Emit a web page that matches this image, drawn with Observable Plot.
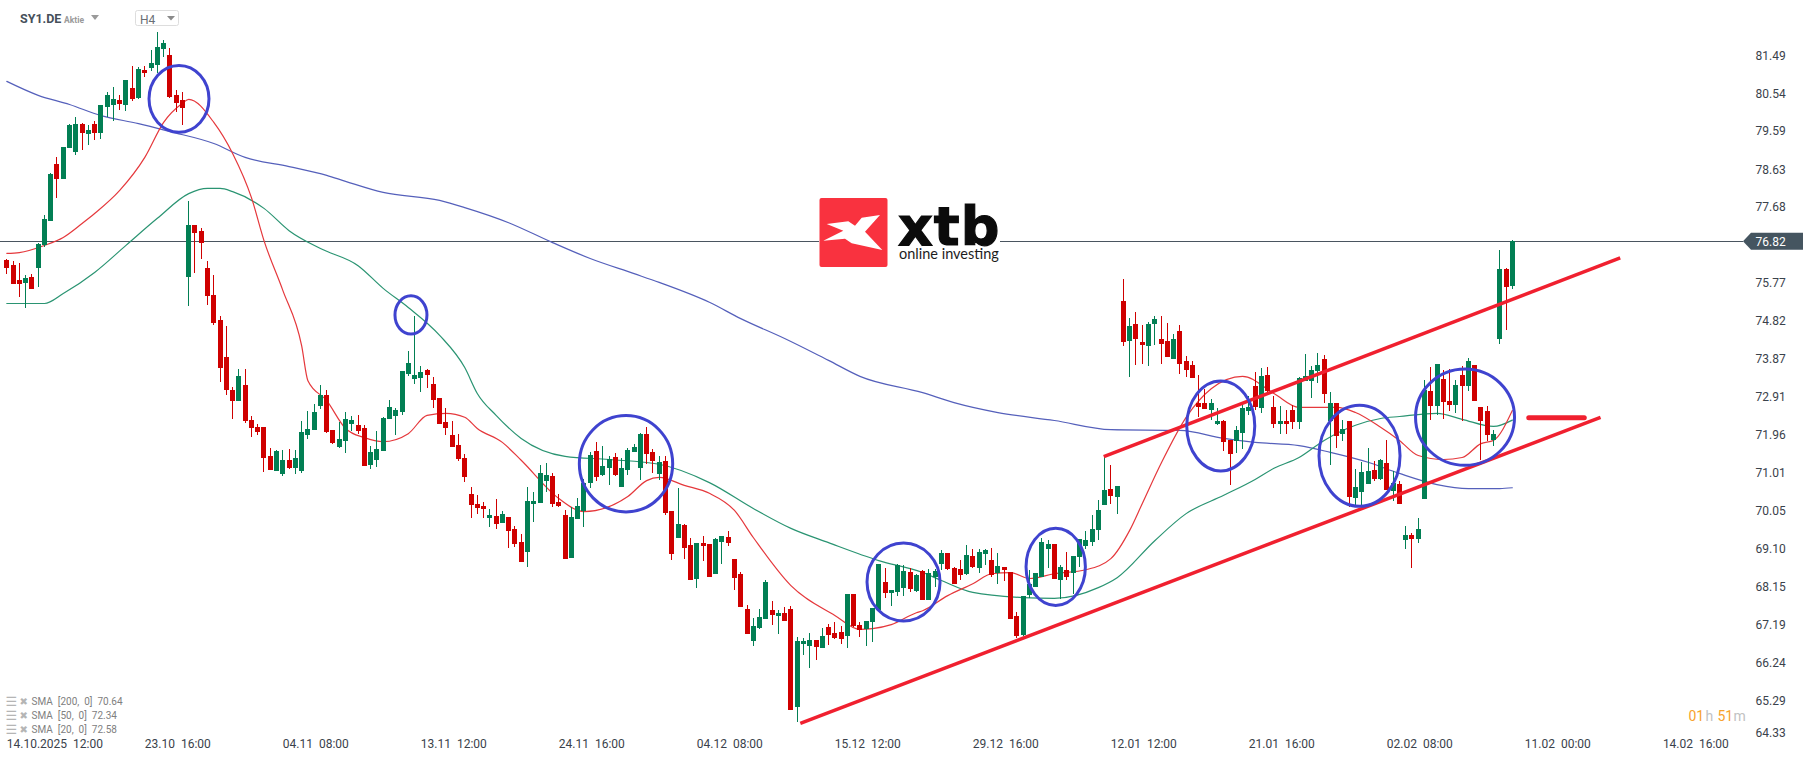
<!DOCTYPE html>
<html>
<head>
<meta charset="utf-8">
<style>
html,body{margin:0;padding:0;background:#fff;overflow:hidden}
svg{display:block}
</style>
<script src="https://cdn.jsdelivr.net/npm/d3@7"></script>
<script src="https://cdn.jsdelivr.net/npm/@observablehq/plot@0.6"></script>
</head>
<body>
<div id="chart"></div>
<script>
const opens = [
76.35,76.22,75.85,75.77,75.92,76.15,76.73,77.33,78.76,78.38,
79.16,79.06,79.77,79.52,79.77,79.54,80.19,80.24,80.37,80.24,
80.67,80.42,81.12,81.17,81.25,81.65,81.50,80.50,80.37,75.92,
77.23,77.08,76.15,75.47,74.84,73.91,73.08,72.81,73.21,72.33,
72.16,72.16,71.43,71.05,70.97,71.33,71.13,71.05,71.95,72.08,
72.68,72.96,72.08,71.65,71.80,72.23,72.21,72.13,71.20,71.33,
71.55,72.36,72.43,72.53,73.49,73.36,73.39,73.59,73.23,72.88,
72.28,71.95,71.70,71.38,70.47,70.22,70.17,69.87,69.92,69.74,
69.89,69.59,69.26,69.01,70.22,70.25,70.80,70.92,70.27,69.94,
68.86,69.84,70.04,70.75,71.55,70.95,71.13,71.40,70.65,71.07,
71.53,71.13,71.98,71.53,70.97,71.30,70.04,69.36,69.69,69.19,
68.33,69.24,69.21,68.46,69.26,69.39,68.83,68.46,67.58,66.78,
67.10,67.33,67.55,67.40,67.48,67.58,65.12,66.70,66.65,66.80,
66.60,67.13,66.98,67.00,66.90,67.96,67.18,67.08,67.25,67.55,
68.26,67.98,68.01,68.11,68.51,68.03,68.53,67.81,68.38,68.71,
68.99,68.61,68.58,68.46,68.91,68.61,68.96,68.81,68.48,68.63,
68.51,67.40,66.93,67.93,68.13,68.38,69.09,69.21,68.31,68.56,
68.48,68.88,69.16,69.26,69.57,70.19,70.60,70.40,75.32,74.31,
74.74,74.29,74.19,74.74,74.37,74.31,73.86,74.57,73.81,73.71,
72.76,72.76,72.58,72.23,72.31,71.83,71.80,72.00,72.56,73.18,
72.63,73.46,72.66,72.23,72.31,72.58,72.28,73.31,73.31,73.56,
73.86,72.31,72.76,71.98,72.31,70.37,70.52,70.72,71.07,70.85,
71.25,70.55,70.72,69.31,69.44,69.34,70.35,73.06,72.68,73.36,
72.81,72.71,73.46,73.18,73.71,72.66,72.56,71.83,74.37,76.12,
75.70];
const closes = [
76.15,75.75,75.75,75.90,75.62,76.75,77.38,78.51,78.38,79.19,
79.74,79.77,79.54,79.62,79.54,80.24,80.50,80.40,80.27,80.87,
80.40,81.15,81.05,81.30,81.70,81.80,80.45,80.30,80.17,77.23,
77.03,76.78,75.45,74.77,73.64,73.08,72.81,73.44,72.31,72.13,
72.03,71.38,71.07,71.55,71.33,71.13,71.38,72.03,72.11,72.53,
72.96,72.03,71.75,71.85,72.36,72.33,72.05,71.18,71.53,71.60,
72.38,72.66,72.58,73.56,73.76,73.46,73.54,73.46,72.83,72.23,
72.13,71.65,71.35,70.90,70.19,70.12,70.09,69.94,69.72,69.97,
69.54,69.21,68.76,70.30,70.30,71.00,70.95,70.22,70.17,68.83,
69.89,70.17,70.75,71.45,70.90,71.18,71.35,70.95,71.13,71.58,
71.65,71.98,71.48,71.30,71.28,70.00,68.96,69.72,69.11,68.31,
69.24,69.16,68.38,69.33,69.41,69.24,68.36,67.63,66.95,67.15,
67.38,68.26,67.43,67.48,67.28,65.04,66.78,66.78,66.80,66.63,
66.90,66.93,66.85,66.83,67.96,67.15,67.05,67.28,67.60,68.71,
67.98,68.06,68.68,68.53,68.08,68.43,67.81,68.48,68.53,68.99,
68.58,68.21,68.43,68.94,68.63,69.01,69.06,68.43,68.66,68.56,
67.33,66.90,67.91,68.21,68.48,69.26,69.21,68.33,68.63,68.38,
68.91,69.33,69.31,69.59,70.07,70.57,70.42,70.67,74.29,74.69,
74.37,74.21,74.74,74.87,74.24,73.91,74.37,73.74,73.59,73.39,
72.66,72.61,72.76,72.31,71.78,71.48,72.08,72.63,72.66,72.66,
73.44,73.06,72.23,72.31,72.23,72.28,73.39,73.44,73.59,73.71,
72.98,72.76,71.93,72.11,70.40,70.65,71.02,71.05,70.85,71.33,
70.57,70.75,70.22,69.44,69.34,69.59,73.08,72.68,73.74,72.78,
72.71,73.21,73.18,73.81,72.81,72.31,71.95,71.98,76.12,75.67,
76.82];
const highs = [
76.38,76.33,76.28,75.97,76.00,76.78,77.48,78.54,78.94,79.19,
79.77,79.94,79.79,79.74,79.84,80.24,80.57,80.70,80.50,80.87,
81.22,81.20,81.22,81.63,82.08,81.88,81.68,80.62,80.57,77.83,
77.23,77.15,76.33,75.97,74.94,74.69,73.16,73.61,73.61,72.43,
72.23,72.16,71.63,71.58,71.58,71.60,71.58,72.31,72.56,72.73,
73.21,73.08,72.08,72.28,72.53,72.43,72.46,72.21,71.68,72.05,
72.41,72.83,72.63,73.56,74.06,74.94,73.69,73.61,73.41,72.88,
72.63,72.31,71.98,71.48,70.65,70.45,70.27,70.09,70.35,70.04,
69.89,69.67,69.46,70.65,70.52,71.20,71.25,71.00,70.47,70.07,
70.14,70.37,70.85,71.53,71.78,71.68,71.43,71.50,71.38,71.63,
71.73,72.00,72.16,71.60,71.43,71.43,70.04,70.62,69.72,69.36,
69.24,69.41,69.21,69.36,69.41,69.54,68.83,68.51,67.68,67.35,
67.58,68.31,67.78,67.55,67.63,67.65,66.88,66.85,66.98,66.80,
67.10,67.20,67.25,67.15,67.96,67.96,67.25,67.28,67.60,68.71,
68.61,68.06,68.71,68.68,68.61,68.46,68.56,68.58,68.58,69.06,
68.99,68.63,68.81,69.19,69.09,69.09,69.09,69.11,68.99,68.63,
68.51,67.50,67.91,68.56,68.48,69.36,69.31,69.21,68.68,69.01,
68.91,69.33,69.54,69.94,70.32,71.43,71.20,70.67,75.87,74.89,
75.04,74.72,74.79,74.94,74.94,74.77,74.49,74.72,73.94,73.81,
73.46,73.11,72.86,72.63,72.33,71.83,72.18,72.78,72.93,73.54,
73.64,73.66,72.93,72.68,72.58,72.71,73.41,73.99,73.69,74.01,
73.96,73.03,72.76,72.33,72.31,71.10,71.28,71.63,71.30,71.35,
71.83,71.05,70.80,69.67,69.49,69.87,73.33,73.66,73.74,73.59,
73.61,73.33,73.69,73.89,73.71,72.66,72.68,72.08,76.60,76.15,
76.85];
const lows = [
76.00,75.75,75.42,75.14,75.62,75.67,76.68,77.33,77.91,78.38,
79.16,78.99,79.11,79.24,79.37,79.39,79.94,79.84,80.12,80.09,
80.35,80.40,80.95,81.10,81.05,81.45,80.42,80.07,79.74,75.19,
76.02,76.38,75.22,74.72,73.28,72.96,72.36,72.81,72.26,71.90,
71.95,71.02,71.07,71.05,70.92,71.10,70.97,71.00,71.85,72.08,
72.61,72.00,71.72,71.63,71.50,72.05,71.98,71.18,71.10,71.15,
71.55,72.36,71.95,72.46,73.44,73.23,73.03,73.13,72.63,72.23,
71.95,71.65,71.30,70.77,69.87,69.97,69.87,69.64,69.59,69.74,
69.11,69.14,68.76,68.63,69.77,70.25,70.52,70.14,70.14,68.83,
68.86,69.84,69.64,70.62,70.80,70.92,70.70,70.92,70.65,70.95,
71.53,70.82,71.23,71.00,70.82,69.94,68.81,69.36,68.83,68.31,
68.11,68.78,68.38,68.46,68.71,69.16,68.06,67.63,66.95,66.65,
67.08,67.33,67.18,66.95,67.28,65.04,64.74,66.43,66.10,66.30,
66.60,66.68,66.83,66.70,66.60,67.13,66.88,66.65,66.75,67.55,
67.86,67.65,67.91,67.91,68.01,68.01,67.81,67.81,68.13,68.56,
68.56,68.21,68.31,68.43,68.61,68.48,68.68,68.38,68.21,68.28,
67.33,66.85,66.90,67.86,68.13,68.38,68.61,68.33,67.83,68.31,
67.96,68.63,69.09,69.16,69.31,70.19,70.22,69.97,74.19,73.41,
73.71,73.74,73.69,74.21,73.74,73.91,73.86,73.49,73.41,73.39,
72.41,72.61,72.33,72.21,71.55,70.70,71.50,71.60,72.46,72.58,
72.51,72.98,72.13,71.98,71.98,72.11,72.11,73.31,72.88,73.26,
72.76,71.20,71.63,71.80,70.14,70.14,70.07,70.72,70.80,70.82,
70.57,70.30,70.22,69.09,68.61,69.24,70.35,72.33,72.46,72.36,
72.56,72.51,72.31,73.06,72.81,71.33,71.80,71.68,74.24,74.59,
75.62];

const sma20Idx = [0,2,6,9,12,14,18,22,25,28,29,33,36,39,41,44,47,48,51,54,57,60,64,67,70,73,75,79,82,88,92,99,102,104,108,112,116,119,125,132,136,138,141,145,146,150,154,157,160,163,167,172,176,179,181,184,188,192,197,202,206,212,215,219,222,225,229,232,235,237,240];
const sma20Val = [76.53,76.55,76.73,76.93,77.28,77.53,78.11,78.94,79.82,80.30,80.40,79.82,79.04,77.93,76.85,75.60,74.21,73.33,72.83,72.13,71.90,71.80,72.00,72.46,72.51,72.41,72.13,71.78,71.33,70.37,70.04,70.42,70.82,70.90,70.70,70.50,70.07,69.39,68.18,67.43,67.08,67.10,67.20,67.50,67.55,67.93,68.23,68.48,68.51,68.36,68.48,68.58,68.86,69.57,70.24,71.25,72.41,73.13,73.44,73.01,72.66,72.66,72.53,72.16,71.83,71.45,71.35,71.40,71.75,71.83,72.58];
const sma50Idx = [0,6,9,14,19,24,29,32,34,36,41,45,50,56,60,64,69,73,75,78,82,89,96,104,112,119,125,131,139,146,149,154,162,167,174,177,183,188,194,199,202,206,210,215,219,222,228,232,237,240];
const sma50Val = [75.27,75.27,75.52,76.05,76.73,77.41,78.03,78.16,78.16,78.08,77.66,77.10,76.65,76.22,75.65,75.17,74.47,73.66,73.01,72.46,71.88,71.43,71.35,71.23,70.77,70.12,69.62,69.26,68.81,68.51,68.31,68.01,67.88,67.86,68.13,68.38,69.31,69.99,70.45,70.85,71.13,71.40,71.83,72.21,72.38,72.43,72.51,72.36,72.18,72.34];
const sma200Idx = [0,5,10,15,21,26,33,38,45,51,54,60,69,73,80,87,93,100,104,112,117,124,131,136,146,151,158,167,176,187,194,199,206,211,217,222,228,233,238,240];
const sma200Val = [80.85,80.50,80.27,79.99,79.79,79.59,79.29,78.94,78.71,78.49,78.34,78.06,77.86,77.68,77.30,76.80,76.40,76.02,75.80,75.30,74.89,74.39,73.84,73.44,73.03,72.78,72.53,72.33,72.10,72.08,71.88,71.78,71.70,71.53,71.28,71.00,70.72,70.62,70.62,70.64];

const yTicks = [81.49,80.54,79.59,78.63,77.68,75.77,74.82,73.87,72.91,71.96,71.01,70.05,69.10,68.15,67.19,66.24,65.29];
const yTickLast = [64.33];
const lastPrice = 76.82;
const xTickIdx = [0,22,44,66,88,110,132,154,176,198,220,242,264];
const xTickLabels = ["14.10.2025  12:00","23.10  16:00","04.11  08:00","13.11  12:00","24.11  16:00","04.12  08:00","15.12  12:00","29.12  16:00","12.01  12:00","21.01  16:00","02.02  08:00","11.02  00:00","14.02  16:00"];
const smaLegend = ["SMA  [200,  0]  70.64","SMA  [50,  0]  72.34","SMA  [20,  0]  72.58"];

// annotation ellipses: centre index, centre price, radius in candles, radius in price
const ringIdx = [27.53,64.51,98.79,143.03,167.29,193.6,215.72,232.54];
const ringPrice = [80.40,74.97,71.23,68.26,68.64,72.18,71.43,72.40];
const ringRx = [4.78,2.55,7.44,5.82,4.73,5.42,6.46,7.89];
const ringRy = [0.84,0.48,1.21,0.98,0.97,1.13,1.27,1.21];

// trend lines
const trendX1 = [126.5,174.87];
const trendY1 = [64.72,71.425];
const trendX2 = [254.06,257.2];
const trendY2 = [72.41,76.418];
const stubX = [242.7,251.55];
const stubY = [72.40];

const nbsp = s => s.replace(/ /g, "\u00a0");
const idx = d3.range(opens.length);
const up = idx.filter(i => closes[i] >= opens[i]);
const dn = idx.filter(i => closes[i] < opens[i]);
const GREEN = "#027f54", RED = "#cf0000";
const INK = "#3a424b";

const candles = (ids, color) => [
  Plot.ruleX(ids, {x: d => d, y1: d => lows[d], y2: d => highs[d], stroke: color, strokeWidth: 1, shapeRendering: "crispEdges"}),
  Plot.ruleX(ids, {x: d => d, y1: d => opens[d], y2: d => closes[d], stroke: color, strokeWidth: 5, shapeRendering: "crispEdges"})
];
const smaLine = (xs, ys, color) =>
  Plot.line(xs.map((x, k) => ({x, y: ys[k]})), {x: "x", y: "y", stroke: color, strokeWidth: 1.2, curve: "monotone-x"});

function rings(index, {x, y}) {
  const g = d3.create("svg:g").attr("fill", "none").attr("stroke", "#3f43cf").attr("stroke-width", 3);
  ringIdx.forEach((c, k) => {
    g.append("ellipse")
      .attr("cx", x(c)).attr("cy", y(ringPrice[k]))
      .attr("rx", x(c + ringRx[k]) - x(c))
      .attr("ry", y(ringPrice[k] - ringRy[k]) - y(ringPrice[k]));
  });
  return g.node();
}

function priceTag(index, {x, y}) {
  const py = y(lastPrice);
  const g = d3.create("svg:g");
  g.append("path").attr("fill", "#455560")
    .attr("d", `M1743,${py}L1751,${py - 8.5}H1803V${py + 8.5}H1751Z`);
  return g.node();
}

function logo() {
  const g = d3.create("svg:g").attr("text-anchor", "start");
  g.append("rect").attr("x", 819).attr("y", 198).attr("width", 181).attr("height", 69).attr("fill", "#fff");
  g.append("rect").attr("x", 819.5).attr("y", 198).attr("width", 68).attr("height", 69).attr("rx", 2).attr("fill", "#f9323f");
  g.append("path").attr("fill", "#fff")
    .attr("d", "M880,215L861.7,217.7L855,225.7L848.3,221.3L826.7,224L843.3,230.7L823.3,240.7L845,238.7L851.7,243.3L882.3,250L865,231.7Z");
  g.append("text").attr("x", 898).attr("y", 245).attr("font-family", "DejaVu Sans").attr("font-weight", 700)
    .attr("font-size", 54).attr("letter-spacing", 1).attr("fill", "#0b0b0b").attr("stroke", "#0b0b0b").attr("stroke-width", 1.2).text("xtb");
  g.append("text").attr("x", 899).attr("y", 259).attr("font-family", "Lato").attr("font-size", 14.5)
    .attr("fill", "#1d1d1d").text("online investing");
  return g.node();
}

function header() {
  const g = d3.create("svg:g").attr("text-anchor", "start");
  g.append("text").attr("x", 20).attr("y", 23).attr("font-size", 12.5).attr("font-weight", 700).attr("fill", "#46505a").text("SY1.DE");
  g.append("text").attr("x", 64).attr("y", 22.5).attr("font-size", 8.5).attr("font-weight", 700).attr("fill", "#9a9a9a").text("Aktie");
  g.append("path").attr("fill", "#9a9a9a").attr("d", "M91,15H99L95,20Z");
  g.append("rect").attr("x", 135.5).attr("y", 10.5).attr("width", 43).attr("height", 15).attr("rx", 2)
    .attr("fill", "#fff").attr("stroke", "#dddddd");
  g.append("text").attr("x", 140).attr("y", 24).attr("font-size", 12).attr("fill", "#6a6f75").text("H4");
  g.append("path").attr("fill", "#8a8a8a").attr("d", "M167,16H175L171,20.5Z");
  return g.node();
}

const chart = Plot.plot({
  width: 1815,
  height: 761,
  marginTop: 0, marginRight: 0, marginBottom: 0, marginLeft: 0,
  style: {fontFamily: "Roboto", background: "#fff", overflow: "hidden"},
  x: {type: "linear", domain: [-1.0043, 288.33], axis: null},
  y: {type: "linear", domain: [63.762, 82.883], axis: null},
  marks: [
    Plot.ruleY([lastPrice], {x1: -1.0043, x2: 276.9, stroke: "#4a5560", strokeWidth: 1, shapeRendering: "crispEdges"}),
    smaLine(sma200Idx, sma200Val, "#5560bb"),
    smaLine(sma50Idx, sma50Val, "#2a9472"),
    smaLine(sma20Idx, sma20Val, "#e5383c"),
    ...candles(up, GREEN),
    ...candles(dn, RED),
    Plot.link(trendX1, {x1: d => d, y1: (d, i) => trendY1[i], x2: (d, i) => trendX2[i], y2: (d, i) => trendY2[i], stroke: "#f0202f", strokeWidth: 3.5}),
    Plot.ruleY(stubY, {x1: stubX[0], x2: stubX[1], stroke: "#f0202f", strokeWidth: 5, strokeLinecap: "round"}),
    rings,
    logo,
    header,
    priceTag,
    Plot.text([lastPrice], {frameAnchor: "right", dx: -60, y: d => d, text: d => d.toFixed(2), textAnchor: "start", fill: "#fff", fontSize: 12}),
    Plot.axisY(yTicks, {anchor: "right", tickSize: 0, tickPadding: 0, dx: -60, textAnchor: "start", fontSize: 12, fill: INK, fontVariant: "normal", label: null, tickFormat: d => d.toFixed(2)}),
    Plot.axisY(yTickLast, {anchor: "right", tickSize: 0, tickPadding: 0, dx: -60, dy: -6, textAnchor: "start", fontSize: 12, fill: INK, fontVariant: "normal", label: null, tickFormat: d => d.toFixed(2)}),
    Plot.text(xTickIdx, {x: d => d, text: (d, i) => nbsp(xTickLabels[i]), frameAnchor: "bottom", lineAnchor: "middle", dy: -17, textAnchor: "start", fontSize: 12, fill: INK}),
    Plot.text(smaLegend, {frameAnchor: "bottom-left", dx: 31, dy: (-60), lineAnchor: "middle", text: d => nbsp(d), fontSize: 10, fill: "#808080", filter: (d, i) => i === 0}),
    Plot.text(smaLegend, {frameAnchor: "bottom-left", dx: 31, dy: (-46), lineAnchor: "middle", text: d => nbsp(d), fontSize: 10, fill: "#808080", filter: (d, i) => i === 1}),
    Plot.text(smaLegend, {frameAnchor: "bottom-left", dx: 31, dy: (-32), lineAnchor: "middle", text: d => nbsp(d), fontSize: 10, fill: "#808080", filter: (d, i) => i === 2}),
    ...[-60, -46, -32].flatMap(dy => [
      Plot.text(["☰"], {frameAnchor: "bottom-left", dx: 5, dy, lineAnchor: "middle", textAnchor: "start", fontSize: 13, fontFamily: "DejaVu Sans", fill: "#b5b5b5"}),
      Plot.text(["✖"], {frameAnchor: "bottom-left", dx: 19, dy, lineAnchor: "middle", textAnchor: "start", fontSize: 10, fontFamily: "DejaVu Sans", fill: "#b5b5b5"})
    ]),
    Plot.text(["01"], {frameAnchor: "bottom-left", dx: 1688, dy: -45, lineAnchor: "middle", textAnchor: "start", fontSize: 14, fill: "#f7a22c"}),
    Plot.text(["h"], {frameAnchor: "bottom-left", dx: 1705, dy: -45, lineAnchor: "middle", textAnchor: "start", fontSize: 14, fill: "#c2c2c2"}),
    Plot.text(["51"], {frameAnchor: "bottom-left", dx: 1717, dy: -45, lineAnchor: "middle", textAnchor: "start", fontSize: 14, fill: "#f7a22c"}),
    Plot.text(["m"], {frameAnchor: "bottom-left", dx: 1733, dy: -45, lineAnchor: "middle", textAnchor: "start", fontSize: 14, fill: "#c2c2c2"})
  ]
});
document.getElementById("chart").appendChild(chart);
</script>
</body>
</html>
